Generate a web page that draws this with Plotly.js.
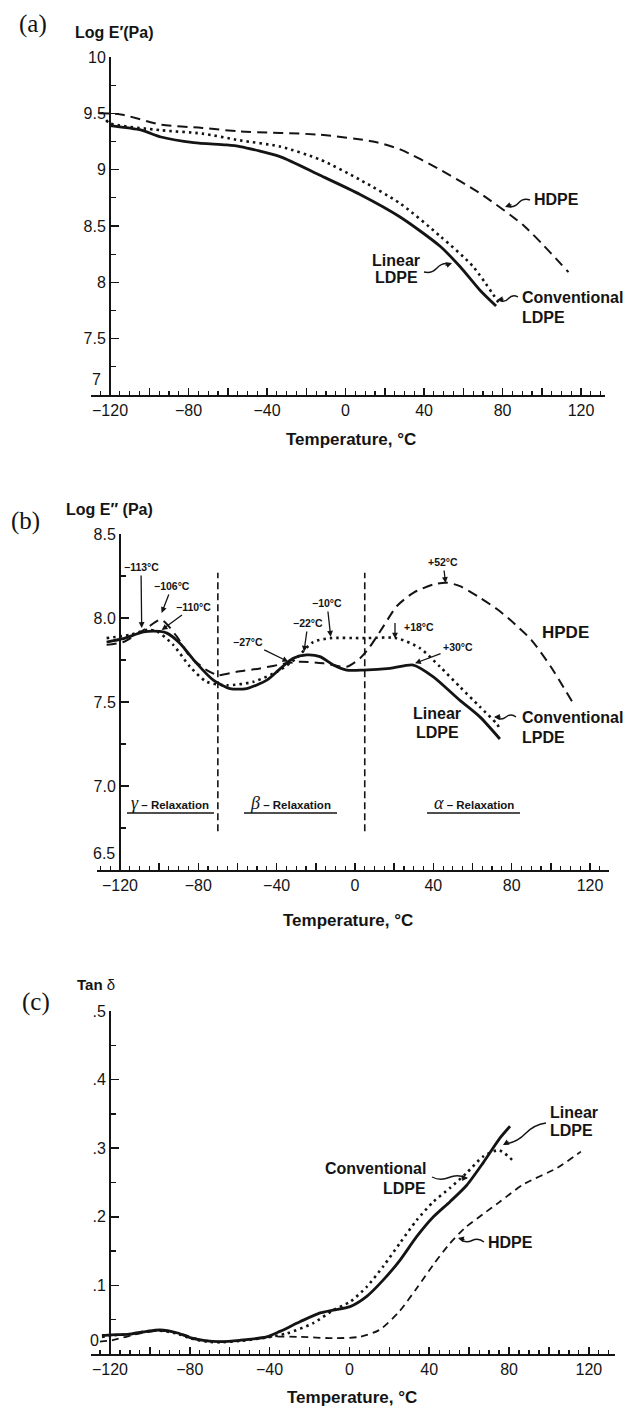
<!DOCTYPE html>
<html>
<head>
<meta charset="utf-8">
<script src="https://cdn.plot.ly/plotly-3.0.1.min.js"></script>
<style>html,body{margin:0;padding:0;background:#fff;}#chart{width:632px;height:1410px;}</style>
</head>
<body>
<div id="chart"></div>
<script>
// ---------------- DATA ----------------
// Panel (a): Log E' (Pa)
const aHdpeT   = [-125.7, -114.4, -94, -73, -53.8, -13, 14, 27.8, 48.2, 68.5, 91, 113.6];
const aHdpeV   = [9.50, 9.49, 9.40, 9.37, 9.34, 9.31, 9.25, 9.18, 9.00, 8.79, 8.50, 8.09];
const aLinT    = [-120, -104, -94, -77.4, -61, -53.8, -33.4, -13, 7.4, 27.8, 48.2, 58.3, 68.5, 76.7];
const aLinV    = [9.39, 9.35, 9.29, 9.24, 9.22, 9.205, 9.116, 8.95, 8.78, 8.58, 8.32, 8.14, 7.93, 7.79];
const aConvT   = [-122, -120, -94, -73, -53.8, -33.4, -13, 7.4, 27.8, 48.2, 65, 78.7];
const aConvV   = [9.44, 9.41, 9.35, 9.32, 9.26, 9.205, 9.09, 8.91, 8.70, 8.41, 8.14, 7.80];

// Panel (b): Log E'' (Pa)
const bLinT  = [-126.8, -118.3, -108, -99.6, -96, -89.4, -80.8, -72.3, -63.8, -55.3, -45, -38, -31.5, -24.6, -17.9, -11, -4.2, 4.3, 17.9, 29.8, 40, 53.6, 63.9, 74];
const bLinV  = [7.857, 7.877, 7.917, 7.92, 7.91, 7.85, 7.73, 7.63, 7.58, 7.58, 7.63, 7.70, 7.76, 7.78, 7.77, 7.72, 7.69, 7.69, 7.70, 7.72, 7.65, 7.51, 7.41, 7.28];
const bConvT = [-126.8, -114.9, -106, -101, -92.8, -84.2, -75.7, -65.5, -51.9, -38.3, -30, -21.3, -12.7, 4.3, 21.3, 33.2, 43.4, 53.6, 63.9, 72.4, 74];
const bConvV = [7.88, 7.90, 7.93, 7.92, 7.84, 7.71, 7.62, 7.60, 7.62, 7.69, 7.76, 7.857, 7.88, 7.88, 7.88, 7.82, 7.71, 7.59, 7.47, 7.37, 7.34];
const bHdpeT = [-126.8, -118.3, -106.4, -99, -91, -84.2, -75.7, -69.8, -60.4, -48.5, -34.9, -28, -16.2, -4.2, 2.6, 7.7, 14.5, 21.3, 29.8, 40, 46.8, 53.6, 63.9, 74, 82, 90, 100, 111];
const bHdpeV = [7.84, 7.857, 7.94, 7.99, 7.89, 7.77, 7.69, 7.66, 7.68, 7.70, 7.73, 7.74, 7.73, 7.71, 7.76, 7.83, 7.95, 8.07, 8.15, 8.20, 8.21, 8.19, 8.12, 8.04, 7.96, 7.87, 7.71, 7.50];
const bRelaxBounds = [-70, 5];

// Panel (c): Tan delta
const cLinT  = [-124, -119.1, -110, -101.6, -95, -86.6, -79.9, -71.5, -64.9, -54.8, -41.5, -34.8, -24.8, -14.7, -8.1, 0.3, 8.7, 17, 25.4, 33.7, 42.1, 50.4, 58.8, 67.1, 75.5, 80.5];
const cLinV  = [0.027, 0.028, 0.029, 0.033, 0.035, 0.031, 0.024, 0.019, 0.018, 0.020, 0.025, 0.033, 0.047, 0.060, 0.064, 0.069, 0.084, 0.108, 0.137, 0.171, 0.200, 0.222, 0.246, 0.279, 0.315, 0.332];
const cConvT = [-124, -119, -110, -101.6, -95, -86.6, -79.9, -71.5, -64.9, -54.8, -41.5, -31.4, -18.1, -8.1, 0.3, 8.7, 17, 25.4, 33.7, 42.1, 50.4, 58.8, 67.1, 75, 81.5];
const cConvV = [0.025, 0.027, 0.029, 0.033, 0.034, 0.030, 0.023, 0.018, 0.017, 0.019, 0.024, 0.030, 0.045, 0.064, 0.076, 0.098, 0.128, 0.162, 0.195, 0.222, 0.242, 0.264, 0.288, 0.297, 0.283];
const cHdpeT = [-125, -119, -105, -95, -85, -75, -65, -50, -40, -25, -8, 5, 15, 25, 34, 42, 50, 58, 67, 75, 87, 104, 116];
const cHdpeV = [0.018, 0.020, 0.030, 0.034, 0.030, 0.021, 0.018, 0.021, 0.025, 0.025, 0.023, 0.025, 0.035, 0.062, 0.097, 0.130, 0.160, 0.184, 0.204, 0.221, 0.247, 0.271, 0.295];

// Tick labels
const xTickVals = [-120, -100, -80, -60, -40, -20, 0, 20, 40, 60, 80, 100, 120];
const xTickText = ['\u2212120', '', '\u221280', '', '\u221240', '', '0', '', '40', '', '80', '', '120'];
const aYTickVals = [7, 7.5, 8, 8.5, 9, 9.5, 10];
const aYTickText = ['', '7.5', '8', '8.5', '9', '9.5', '10'];
const bYTickVals = [6.5, 7, 7.5, 8, 8.5];
const bYTickText = ['', '7.0', '7.5', '8.0', '8.5'];
const cYTickVals = [0, 0.1, 0.2, 0.3, 0.4, 0.5];
const cYTickText = ['', '.1', '.2', '.3', '.4', '.5'];

// ---------------- LAYOUT HELPERS ----------------
const W = 632, H = 1410;
const fx = p => p / W;
const fy = p => 1 - p / H;
const SANS = 'Liberation Sans, Arial, Helvetica, sans-serif';
const SERIF = 'Liberation Serif, Times New Roman, serif';
const INK = '#141414';

const SOLID = {color: INK, width: 2.8, shape: 'spline', smoothing: 0.7};
const DOTTED = {color: INK, width: 2.6, dash: '2.5px,4px', shape: 'spline', smoothing: 0.7};
const DASHED = {color: INK, width: 2.0, dash: '10px,6px', shape: 'spline', smoothing: 0.7};
const DASHED_C = {color: INK, width: 1.8, dash: '7px,5px', shape: 'spline', smoothing: 0.7};

function tr(x, y, xa, ya, line, name) {
  return {x: x, y: y, xaxis: xa, yaxis: ya, type: 'scatter', mode: 'lines', line: line, name: name, showlegend: false, hoverinfo: 'skip'};
}

const traces = [
  tr(aHdpeT, aHdpeV, 'x', 'y', DASHED, 'HDPE'),
  tr(aConvT, aConvV, 'x', 'y', DOTTED, 'Conventional LDPE'),
  tr(aLinT, aLinV, 'x', 'y', SOLID, 'Linear LDPE'),
  tr(bHdpeT, bHdpeV, 'x2', 'y2', DASHED, 'HPDE'),
  tr(bConvT, bConvV, 'x2', 'y2', DOTTED, 'Conventional LPDE'),
  tr(bLinT, bLinV, 'x2', 'y2', SOLID, 'Linear LDPE'),
  tr(cHdpeT, cHdpeV, 'x3', 'y3', DASHED_C, 'HDPE'),
  tr(cConvT, cConvV, 'x3', 'y3', DOTTED, 'Conventional LDPE'),
  tr(cLinT, cLinV, 'x3', 'y3', SOLID, 'Linear LDPE')
];

function xAxis(d0, d1, r0, r1, anchor) {
  return {
    domain: [fx(d0), fx(d1)], range: [r0, r1], anchor: anchor,
    showline: true, linecolor: INK, linewidth: 2,
    ticks: 'inside', ticklen: 7, tickwidth: 1.5, tickcolor: INK,
    tickmode: 'array', tickvals: xTickVals, ticktext: xTickText,
    tickfont: {family: SANS, size: 16, color: INK},
    minor: {dtick: 5, tick0: 0, ticks: 'inside', ticklen: 4, tickwidth: 1.2, tickcolor: INK, showgrid: false},
    showgrid: false, zeroline: false, fixedrange: true
  };
}
function yAxis(d0px, d1px, r0, r1, posPx, vals, text, minorD) {
  return {
    domain: [fy(d0px), fy(d1px)], range: [r0, r1], anchor: 'free', position: fx(posPx),
    showline: true, linecolor: INK, linewidth: 2,
    ticks: 'inside', ticklen: 8, tickwidth: 1.5, tickcolor: INK,
    tickmode: 'array', tickvals: vals, ticktext: text,
    tickfont: {family: SANS, size: 16, color: INK},
    minor: {dtick: minorD, tick0: 0, ticks: 'inside', ticklen: 5, tickwidth: 1.2, tickcolor: INK, showgrid: false},
    showgrid: false, zeroline: false, fixedrange: true
  };
}

// text annotation in page pixels
function txt(text, x, y, size, opts) {
  opts = opts || {};
  return Object.assign({
    text: text, x: fx(x), y: fy(y), xref: 'paper', yref: 'paper',
    showarrow: false, xanchor: 'center', yanchor: 'middle',
    font: {family: SANS, size: size, color: INK}
  }, opts);
}
// label with straight arrow: tip (tx,ty), text centre (cx,cy)
function arrowLabel(text, tx, ty, cx, cy) {
  return {
    text: '<b>' + text + '</b>', x: fx(tx), y: fy(ty), xref: 'paper', yref: 'paper',
    ax: cx - tx, ay: cy - ty, showarrow: true, arrowhead: 2, arrowsize: 0.9, arrowwidth: 1.3,
    arrowcolor: INK, standoff: 0, startstandoff: 1,
    font: {family: SANS, size: 10.5, color: INK}
  };
}
function arrowOnly(tx, ty, dx, dy) {
  return {
    text: '', x: fx(tx), y: fy(ty), xref: 'paper', yref: 'paper',
    ax: dx, ay: dy, showarrow: true, arrowhead: 2, arrowsize: 0.9, arrowwidth: 1.3, arrowcolor: INK
  };
}
// wavy leader from (x0,y0) to (x1,y1) in page pixels
function squiggle(x0, y0, x1, y1) {
  const dx = x1 - x0, dy = y1 - y0, L = Math.hypot(dx, dy);
  const nx = -dy / L, ny = dx / L, a = 4;
  const p = t => [x0 + dx * t, y0 + dy * t];
  const c1 = p(0.25), m = p(0.5), c2 = p(0.75);
  const P = (q) => fx(q[0]) + ',' + fy(q[1]);
  const path = 'M ' + P([x0, y0]) + ' Q ' + P([c1[0] + nx * a, c1[1] + ny * a]) + ' ' + P(m) +
               ' Q ' + P([c2[0] - nx * a, c2[1] - ny * a]) + ' ' + P([x1, y1]);
  return {type: 'path', xref: 'paper', yref: 'paper', path: path, line: {color: INK, width: 1.4}};
}
function hline(x0, x1, y, w) {
  return {type: 'line', xref: 'paper', yref: 'paper', x0: fx(x0), x1: fx(x1), y0: fy(y), y1: fy(y), line: {color: INK, width: w || 1.3}};
}

const annotations = [
  // panel titles
  txt('(a)', 33, 24, 25, {font: {family: SERIF, size: 25, color: INK}}),
  txt('<b>Log E\u2032(Pa)</b>', 114, 32, 16),
  txt('(b)', 25, 521, 25, {font: {family: SERIF, size: 25, color: INK}}),
  txt('<b>Log E\u2033 (Pa)</b>', 109, 510, 16),
  txt('(c)', 36, 1002, 25, {font: {family: SERIF, size: 25, color: INK}}),
  txt('<b>Tan</b> \u03b4', 96, 985, 15),
  // x axis titles
  txt('<b>Temperature, \u00b0C</b>', 351, 439, 17),
  txt('<b>Temperature, \u00b0C</b>', 348, 920, 17),
  txt('<b>Temperature, \u00b0C</b>', 352, 1397, 17),
  // raised bottom y tick labels
  txt('7', 103, 380, 16, {xanchor: 'right'}),
  txt('6.5', 117, 853, 16, {xanchor: 'right'}),
  txt('0', 101, 1340, 16, {xanchor: 'right'}),
  // panel a series labels
  txt('<b>HDPE</b>', 532, 200, 16, {xanchor: 'left'}),
  txt('<b>Linear</b>', 396, 260, 16),
  txt('<b>LDPE</b>', 396, 278, 16),
  txt('<b>Conventional</b>', 520, 298, 16, {xanchor: 'left'}),
  txt('<b>LDPE</b>', 520, 317, 16, {xanchor: 'left'}),
  arrowOnly(505, 207, 8, -3),
  arrowOnly(452, 263, -8, 3),
  arrowOnly(497, 300, 8, -1),
  // panel b series labels
  txt('<b>HPDE</b>', 540, 632, 17, {xanchor: 'left'}),
  txt('<b>Linear</b>', 437, 713, 16),
  txt('<b>LDPE</b>', 437, 732, 16),
  txt('<b>Conventional</b>', 520, 718, 16, {xanchor: 'left'}),
  txt('<b>LPDE</b>', 520, 737, 16, {xanchor: 'left'}),
  arrowOnly(494, 717, 8, 0),
  // panel b temperature markers
  arrowLabel('\u2212113\u00b0C', 141.7, 628, 141, 567),
  arrowLabel('\u2212106\u00b0C', 161.7, 613, 172, 586),
  arrowLabel('\u2212110\u00b0C', 161.7, 630, 193, 607),
  arrowLabel('\u221227\u00b0C', 288.3, 661.7, 248, 642),
  arrowLabel('\u221222\u00b0C', 304, 651.7, 308, 623),
  arrowLabel('\u221210\u00b0C', 330.7, 636.7, 327, 603),
  txt('<b>+18\u00b0C</b>', 419, 627, 10.5),
  arrowOnly(395, 638.5, 0, -17),
  arrowLabel('+30\u00b0C', 415, 663.3, 458, 647),
  arrowLabel('+52\u00b0C', 445.6, 583, 443, 562),
  // relaxation region labels
  txt('<span style="font-family:Liberation Serif;font-size:18px"><i>\u03b3</i></span><b> \u2013 Relaxation</b>', 170, 803, 11.5),
  txt('<span style="font-family:Liberation Serif;font-size:18px"><i>\u03b2</i></span><b> \u2013 Relaxation</b>', 290, 803, 11.5),
  txt('<span style="font-family:Liberation Serif;font-size:18px"><i>\u03b1</i></span><b> \u2013 Relaxation</b>', 474, 803, 11.5),
  // panel c series labels
  txt('<b>Linear</b>', 548, 1112, 16, {xanchor: 'left'}),
  txt('<b>LDPE</b>', 548, 1130, 16, {xanchor: 'left'}),
  txt('<b>Conventional</b>', 428, 1168, 16, {xanchor: 'right'}),
  txt('<b>LDPE</b>', 428, 1188, 16, {xanchor: 'right'}),
  txt('<b>HDPE</b>', 486, 1242, 16, {xanchor: 'left'}),
  arrowOnly(503, 1145, 7, -4),
  arrowOnly(468, 1178, -8, 0),
  arrowOnly(458, 1238, 8, 2)
];

const shapes = [
  // relaxation region boundaries (data coords of panel b)
  {type: 'line', xref: 'x2', yref: 'y2', x0: bRelaxBounds[0], x1: bRelaxBounds[0], y0: 6.73, y1: 8.27, line: {color: INK, width: 1.6, dash: '7px,4px'}},
  {type: 'line', xref: 'x2', yref: 'y2', x0: bRelaxBounds[1], x1: bRelaxBounds[1], y0: 6.73, y1: 8.27, line: {color: INK, width: 1.6, dash: '7px,4px'}},
  // underlines for relaxation labels
  hline(127, 214, 813), hline(244, 337, 813), hline(427, 520, 813),
  // wavy leaders
  squiggle(530, 200, 507, 206),
  squiggle(424, 272, 450, 264),
  squiggle(518, 297, 499, 300),
  squiggle(516, 717, 496, 717),
  squiggle(546, 1123, 505, 1144),
  squiggle(432, 1177, 466, 1178),
  squiggle(484, 1242, 460, 1239)
];

const layout = {
  width: W, height: H,
  margin: {l: 0, r: 0, t: 0, b: 0, pad: 0},
  paper_bgcolor: '#ffffff', plot_bgcolor: 'rgba(0,0,0,0)',
  showlegend: false,
  font: {family: SANS, color: INK},
  xaxis: xAxis(91, 605, -129.7, 132.2, 'y'),
  yaxis: yAxis(395, 57, 7, 10, 110, aYTickVals, aYTickText, 0.25),
  xaxis2: xAxis(97, 609, -131.7, 129.7, 'y2'),
  yaxis2: yAxis(870, 534, 6.5, 8.5, 120, bYTickVals, bYTickText, 0.25),
  xaxis3: xAxis(91, 615, -129.5, 133.1, 'y3'),
  yaxis3: yAxis(1354, 1011, 0, 0.5, 110, cYTickVals, cYTickText, 0.05),
  annotations: annotations,
  shapes: shapes
};

Plotly.newPlot('chart', traces, layout, {displayModeBar: false, staticPlot: true});
</script>
</body>
</html>
